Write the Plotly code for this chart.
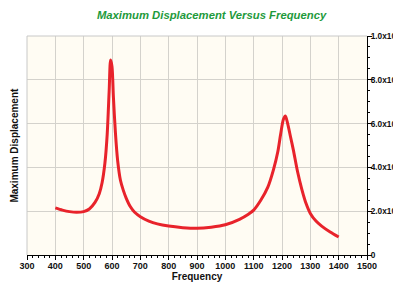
import plotly.graph_objects as go

freq = [400, 425, 450, 475, 500, 520, 540, 555, 565, 575, 583, 590, 595, 600, 605, 612,
        620, 630, 640, 650, 665, 680, 700, 730, 760, 800, 850, 900, 950, 1000, 1050, 1080,
        1100, 1125, 1150, 1170, 1185, 1195, 1205, 1212, 1220, 1230, 1240, 1255, 1270, 1285,
        1300, 1320, 1340, 1370, 1400]
disp = [0.215, 0.205, 0.198, 0.195, 0.198, 0.21, 0.24, 0.28, 0.33, 0.42, 0.55, 0.75, 0.89,
        0.86, 0.72, 0.56, 0.43, 0.34, 0.295, 0.26, 0.22, 0.195, 0.175, 0.155, 0.142, 0.132,
        0.125, 0.122, 0.127, 0.138, 0.163, 0.185, 0.205, 0.25, 0.31, 0.39, 0.47, 0.55, 0.62,
        0.635, 0.6, 0.54, 0.48, 0.38, 0.30, 0.235, 0.19, 0.155, 0.132, 0.105, 0.082]
scale = 1e-7
disp_m = [v * scale for v in disp]

x_ticks = list(range(300, 1501, 100))
y_tickvals = [0, 0.2e-7, 0.4e-7, 0.6e-7, 0.8e-7, 1.0e-7]
y_ticktext = ["0", "2.0x10<sup>-7</sup>", "4.0x10<sup>-7</sup>", "6.0x10<sup>-7</sup>",
              "8.0x10<sup>-7</sup>", "1.0x10<sup>-7</sup>"]

fig = go.Figure()
fig.add_trace(go.Scatter(x=freq, y=disp_m, mode="lines",
                         line=dict(color="#E8232B", width=3, shape="spline", smoothing=0.8),
                         hoverinfo="skip", showlegend=False))

tickfont = dict(family="Liberation Sans Narrow, Arial Narrow, Liberation Sans, sans-serif",
                size=9, color="#111111")
ytickfont = dict(tickfont, size=8.3)

fig.update_layout(
    width=393, height=276,
    margin=dict(l=19, r=34, t=28, b=29, autoexpand=False),
    paper_bgcolor="white", plot_bgcolor="#FFFCF3",
    title=dict(text="<b><i>Maximum Displacement Versus Frequency</i></b>",
               x=0.518, xanchor="center", y=0.975, yanchor="middle", automargin=False,
               font=dict(family="Liberation Sans, Arial, sans-serif", size=11.3, color="#1E9A3C")),
    font=dict(family="Liberation Sans, Arial, sans-serif", size=9, color="#111111"),
    xaxis=dict(range=[300, 1500], tickvals=x_ticks, ticktext=[f"<b>{v}</b>" for v in x_ticks],
               ticks="outside", ticklen=4, tickcolor="#000", linecolor="#000", showline=True,
               showgrid=True, gridcolor="#D4D2CC", gridwidth=1, zeroline=False,
               minor=dict(dtick=20, ticks="outside", ticklen=2, tickcolor="#000", showgrid=False),
               tickfont=tickfont, automargin=False, ticklabelstandoff=-2,
               title=dict(text="<b>Frequency</b>", font=dict(size=10, color="#111"), standoff=2),
               mirror=False),
    yaxis=dict(range=[0, 1.0e-7], side="right", tickvals=y_tickvals,
               ticktext=[f"<b>{t}</b>" for t in y_ticktext],
               ticks="outside", ticklen=4, tickcolor="#000", linecolor="#000", showline=True,
               showgrid=True, gridcolor="#D4D2CC", gridwidth=1, zeroline=False,
               minor=dict(dtick=0.05e-7, ticks="outside", ticklen=2, tickcolor="#000", showgrid=False),
               tickfont=ytickfont, automargin=False, ticklabelstandoff=-3),
)

# left and top border of the plot area
fig.add_shape(type="line", xref="paper", yref="paper", x0=0, x1=0, y0=0, y1=1,
              line=dict(color="#C8C8C8", width=1))
fig.add_shape(type="line", xref="paper", yref="paper", x0=0, x1=1, y0=1, y1=1,
              line=dict(color="#C8C8C8", width=1))

fig.add_annotation(text="<b>Maximum Displacement</b>", xref="paper", yref="paper",
                   x=-0.038, y=0.5, xanchor="center", yanchor="middle", showarrow=False,
                   textangle=-90, font=dict(size=10, color="#111"))

fig.write_html("out.html")
